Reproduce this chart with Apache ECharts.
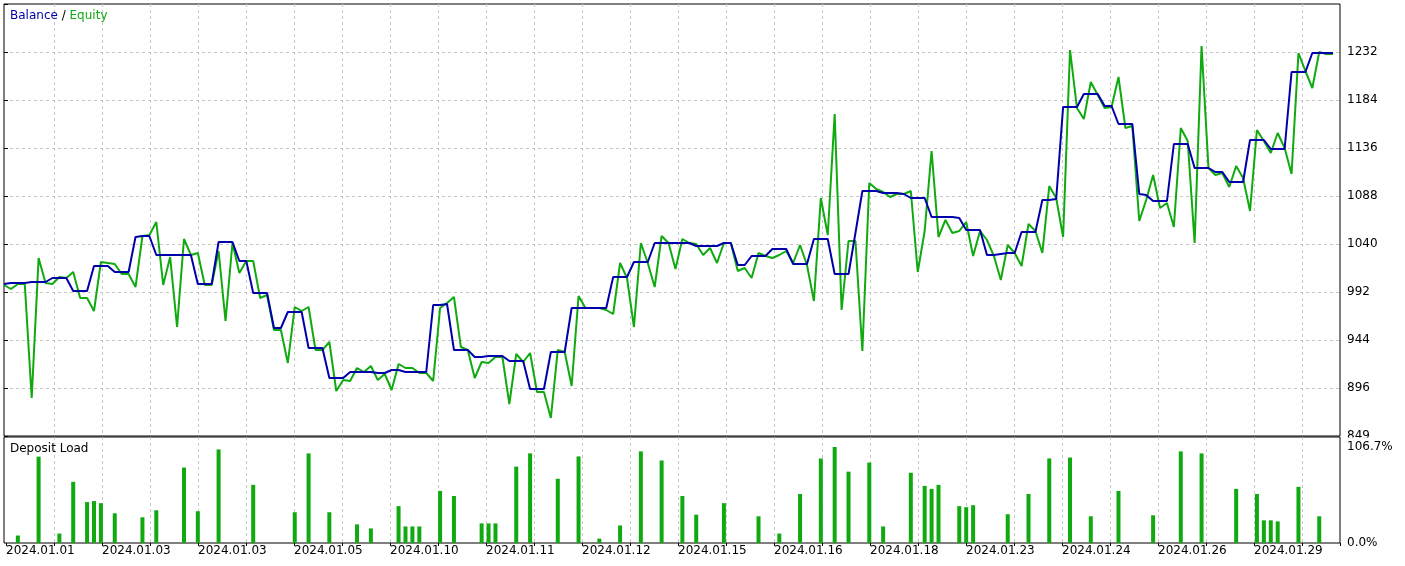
<!DOCTYPE html>
<html><head><meta charset="utf-8">
<script src="https://cdn.jsdelivr.net/npm/echarts@6/dist/echarts.min.js"></script>
<style>html,body{margin:0;padding:0;background:#fff}#c{width:1405px;height:566px}</style>
</head><body><div id="c"></div>
<script>
// Equity per deal (index 0..192)
const equity = [
 999, 995,1000,1000, 886,1026,1001,1000,1007,1006,
1012, 986, 986, 973,1022,1021,1020,1010,1010, 997,
1048,1049,1062, 999,1027, 957,1045,1029,1031, 999,
 999,1033, 963,1041,1011,1023,1023, 986, 989, 954,
 954, 921, 977, 973, 977, 934, 934, 942, 893, 904,
 903, 916, 912, 918, 904, 910, 894, 920, 916, 916,
 911, 911, 903, 976, 981, 987, 937, 934, 906, 922,
 921, 927, 927, 880, 930, 922, 931, 892, 892, 866,
 934, 932, 898, 988, 976, 976, 976, 974, 970,1021,
1006, 957,1041,1021, 997,1048,1041,1015,1045,1041,
1040,1029,1036,1021,1041,1041,1013,1016,1006,1031,
1028,1026,1029,1033,1021,1039,1019, 983,1086,1049,
1170, 974,1043,1043, 933,1101,1095,1092,1087,1090,
1090,1093,1012,1053,1133,1047,1064,1051,1053,1062,
1028,1053,1044,1028,1004,1039,1031,1018,1060,1053,
1031,1098,1086,1047,1234,1176,1165,1202,1189,1176,
1177,1207,1156,1158,1063,1084,1109,1076,1081,1057,
1156,1143,1041,1238,1116,1109,1111,1097,1118,1106,
1073,1154,1143,1131,1151,1136,1110,1231,1213,1196,
1232,1230,1230
];
// Balance per deal (index 0..192)
const balance = [
1000,1001,1001,1001,1002,1002,1002,1006,1006,1006,
 993, 993, 993,1018,1018,1018,1012,1012,1012,1047,
1048,1048,1029,1029,1029,1029,1029,1029,1000,1000,
1000,1042,1042,1042,1023,1023, 991, 991, 991, 956,
 956, 972, 972, 972, 936, 936, 936, 906, 906, 906,
 912, 912, 912, 912, 911, 911, 914, 914, 912, 912,
 912, 912, 979, 979, 980, 934, 934, 934, 927, 927,
 928, 928, 928, 923, 923, 923, 895, 895, 895, 932,
 932, 932, 976, 976, 976, 976, 976, 976,1007,1007,
1007,1022,1022,1022,1041,1041,1041,1041,1041,1041,
1038,1038,1038,1038,1041,1041,1019,1019,1028,1028,
1028,1035,1035,1035,1020,1020,1020,1045,1045,1045,
1010,1010,1010,1051,1093,1093,1093,1091,1091,1091,
1090,1086,1086,1086,1067,1067,1067,1067,1066,1054,
1054,1054,1029,1029,1030,1031,1031,1052,1052,1052,
1084,1084,1085,1177,1177,1177,1190,1190,1190,1178,
1178,1160,1160,1160,1090,1089,1083,1083,1083,1140,
1140,1140,1116,1116,1116,1112,1112,1102,1102,1102,
1144,1144,1144,1135,1135,1135,1212,1212,1212,1231,
1231,1231,1231
];
// Deposit load bars: deal index and load (%)
const loadIndex = [2,5,8,10,12,13,14,16,20,22,26,28,31,36,42,44,47,51,53,57,58,59,60,63,65,69,70,71,74,76,80,83,86,89,92,95,98,100,
 104,109,112,115,118,120,122,125,127,131,133,134,135,138,139,140,145,148,151,154,157,161,166,170,173,178,181,182,183,184,187,190];
const loadValue = [8.3,96,10.5,68,45.5,46.6,44.3,33,28.6,36.4,83.8,35.3,104,64.6,34.2,99.6,34.2,20.7,16.2,41,18.4,18.4,18.4,57.9,52.2,21.8,21.8,21.8,84.9,99.6,71.4,96.2,4.9,19.5,101.8,91.7,52.2,31.5,
 44.3,29.7,10.5,54.5,93.9,106.7,79.3,89.4,18.4,78.1,63.5,60.1,64.6,41,39.8,42,32,54.5,94,95,29.7,57.9,30.8,101.8,99.6,60.1,54.5,25.2,25.2,24,62.4,29.7];
// Date tick labels (every second vertical grid line)
const dateLabels = ['2024.01.01','2024.01.03','2024.01.03','2024.01.05','2024.01.10','2024.01.11','2024.01.12',
 '2024.01.15','2024.01.16','2024.01.18','2024.01.23','2024.01.24','2024.01.26','2024.01.29'];
// Axis scale settings
const priceMin = 848, priceMax = 1280, priceStep = 48, priceMinLabel = '849';
const loadTop = 106.7;

const FONT = 'DejaVu Sans';
const FS = 12;
const BLUE = '#0000aa', GREEN = '#10aa10';
const GRIDC = '#c8c8c8';
const dash = {show: true, showMinLine: false, showMaxLine: false, lineStyle: {color: GRIDC, type: [3, 3], width: 1}};
const pts = arr => arr.map((v, i) => [i, v]);

const chart = echarts.init(document.getElementById('c'), null, {renderer: 'canvas'});
chart.setOption({
  animation: false,
  backgroundColor: '#fff',
  title: [
    {text: '{b|Balance} {s|/} {e|Equity}', left: 10, top: 10, padding: 0,
     textStyle: {fontFamily: FONT, fontSize: FS, fontWeight: 'normal',
       rich: {b: {color: BLUE, fontFamily: FONT, fontSize: FS},
              s: {color: '#000', fontFamily: FONT, fontSize: FS},
              e: {color: GREEN, fontFamily: FONT, fontSize: FS}}}},
    {text: 'Deposit Load', left: 10, top: 443, padding: 0,
     textStyle: {fontFamily: FONT, fontSize: FS, fontWeight: 'normal', color: '#000'}}
  ],
  grid: [
    {left: 4, top: 4, width: 1336, height: 432, show: true, borderColor: '#000', borderWidth: 1, backgroundColor: 'transparent'},
    {left: 4, top: 437, width: 1336, height: 106, show: true, borderColor: '#000', borderWidth: 1, backgroundColor: 'transparent'},
    {left: 6, top: 4, width: 1334, height: 432},
    {left: 6, top: 437, width: 1334, height: 106}
  ],
  xAxis: [
    {gridIndex: 0, type: 'value', min: 0, max: 193, show: false},
    {gridIndex: 1, type: 'value', min: 0, max: 193, show: false},
    {gridIndex: 2, type: 'value', min: 0, max: 1334, interval: 48,
     axisLine: {show: false}, axisTick: {show: false}, axisLabel: {show: false}, splitLine: dash},
    {gridIndex: 3, type: 'value', min: 0, max: 1334, interval: 48,
     axisLine: {show: false},
     axisTick: {show: true, length: 3, lineStyle: {color: '#000'}},
     axisLabel: {show: true, align: 'left', margin: 2, fontFamily: FONT, fontSize: FS, color: '#000',
       formatter: v => (v % 96 === 0 && v / 96 < dateLabels.length) ? dateLabels[v / 96] : ''},
     splitLine: dash}
  ],
  yAxis: [
    {gridIndex: 0, type: 'value', position: 'right', min: priceMin, max: priceMax, interval: priceStep,
     axisLine: {show: false},
     axisTick: {show: true, length: 4, lineStyle: {color: '#000'}},
     axisLabel: {margin: 7, fontFamily: FONT, fontSize: FS, color: '#000',
       formatter: v => v === priceMin ? priceMinLabel : (v >= priceMax ? '' : String(v))},
     splitLine: dash},
    {gridIndex: 1, type: 'value', position: 'right', min: 0, max: 117.8, interval: loadTop,
     axisLine: {show: false}, axisTick: {show: false},
     axisLabel: {margin: 7, fontFamily: FONT, fontSize: FS, color: '#000',
       formatter: v => v === 0 ? '0.0%' : (Math.abs(v - loadTop) < 0.01 ? loadTop.toFixed(1) + '%' : '')},
     splitLine: {show: false}},
    {gridIndex: 2, type: 'value', show: false, min: 0, max: 1},
    {gridIndex: 3, type: 'value', show: false, min: 0, max: 1}
  ],
  series: [
    {name: 'Equity', type: 'line', xAxisIndex: 0, yAxisIndex: 0, data: pts(equity),
     symbol: 'none', showSymbol: false, lineStyle: {color: GREEN, width: 2}, itemStyle: {color: GREEN}, z: 3},
    {name: 'Balance', type: 'line', xAxisIndex: 0, yAxisIndex: 0, data: pts(balance),
     symbol: 'none', showSymbol: false, lineStyle: {color: BLUE, width: 2}, itemStyle: {color: BLUE}, z: 4},
    {name: 'Deposit Load', type: 'bar', xAxisIndex: 1, yAxisIndex: 1,
     data: loadIndex.map((x, k) => [x, loadValue[k]]), barWidth: 4, itemStyle: {color: GREEN}, z: 3}
  ],
  graphic: [
    {type: 'rect', shape: {x: 1341, y: 437.5, width: 64, height: 3.5}, style: {fill: '#fff'}, z: 100}
  ]
});
</script></body></html>
